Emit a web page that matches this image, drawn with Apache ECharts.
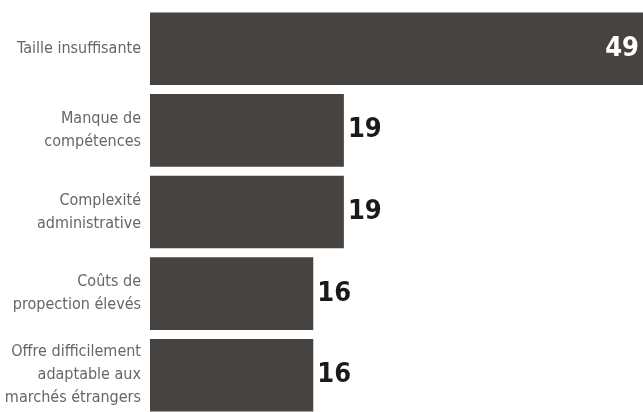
<!DOCTYPE html>
<html>
<head>
<meta charset="utf-8">
<script src="https://cdn.jsdelivr.net/npm/echarts@6/dist/echarts.min.js"></script>
<style>
html,body{margin:0;padding:0;background:#fff;}
#chart{width:643px;height:412px;}
</style>
</head>
<body>
<div id="chart"></div>
<script>
const categories = [
  "Taille insuffisante",
  "Manque de\ncompétences",
  "Complexité\nadministrative",
  "Coûts de\npropection élevés",
  "Offre difficilement\nadaptable aux\nmarchés étrangers"
];
const values = [49, 19, 19, 16, 16];

const FONT = "'DejaVu Sans Condensed', sans-serif";
const chart = echarts.init(document.getElementById('chart'));
chart.setOption({
  animation: false,
  grid: { left: 150, right: -7, top: 8, bottom: -4, containLabel: false, outerBoundsMode: 'none' },
  xAxis: {
    type: 'value', min: 0, max: 49, show: false
  },
  yAxis: {
    type: 'category', data: categories, inverse: true,
    axisLine: { show: false }, axisTick: { show: false },
    axisLabel: {
      margin: 9, color: '#666666', fontSize: 16, lineHeight: 23,
      fontFamily: FONT, align: 'right'
    }
  },
  series: [{
    type: 'bar', data: values.map((v, i) => ({
      value: v,
      label: i === 0 ? { position: 'insideRight', distance: 11, color: '#ffffff' } : {}
    })),
    barCategoryGap: '11%',
    itemStyle: { color: '#474341' },
    label: {
      show: true, position: 'right', distance: 4,
      color: '#1a1a1a', fontSize: 27, fontWeight: 'bold',
      fontFamily: FONT
    }
  }]
});
</script>
</body>
</html>
